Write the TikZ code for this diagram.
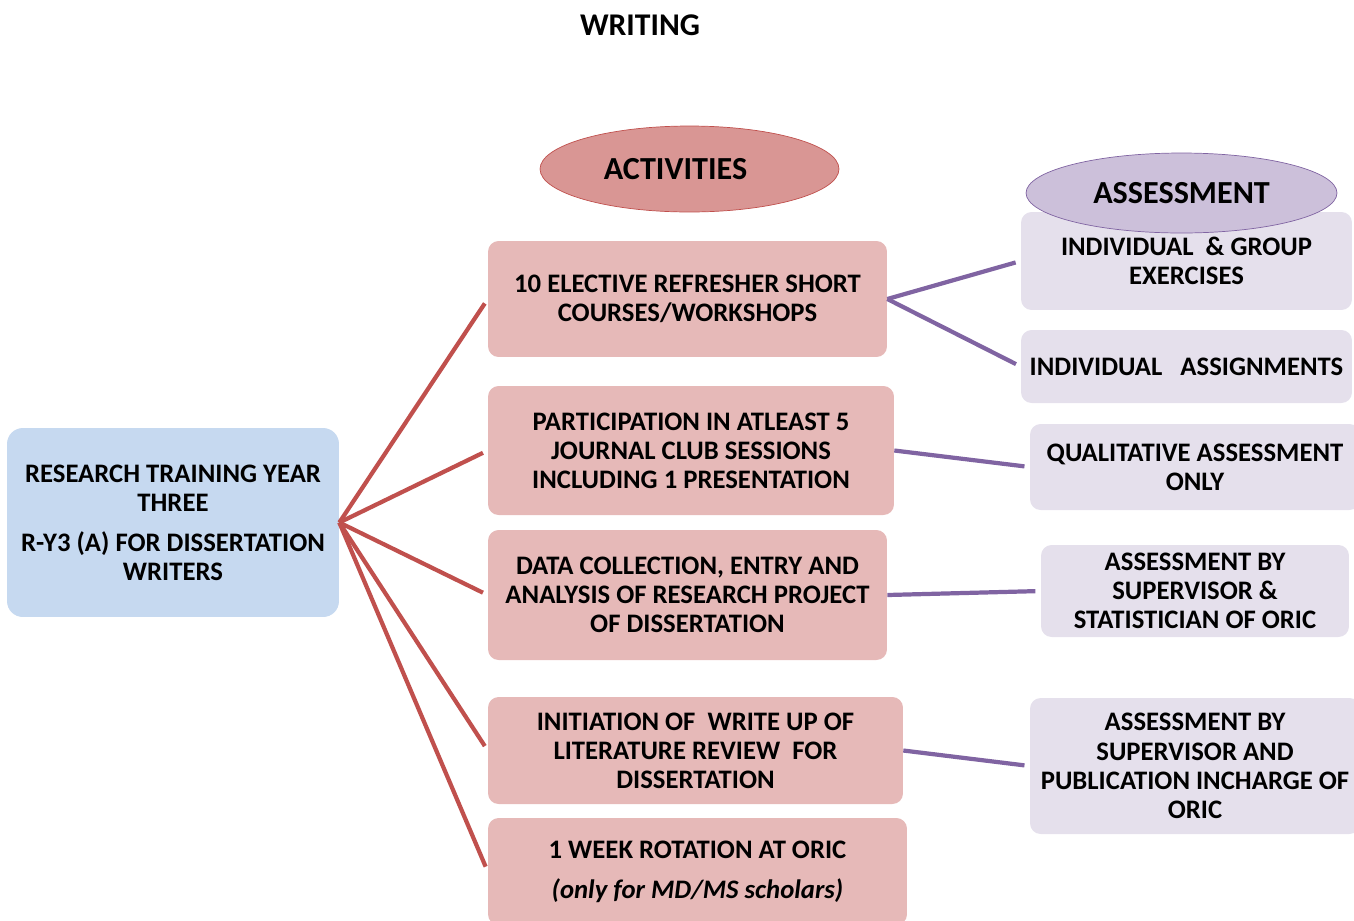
\documentclass[tikz,border=0pt]{standalone}
\usepackage{fontspec}
\setmainfont{Carlito}
\usetikzlibrary{shapes.geometric}

\definecolor{hubblue}{HTML}{C6D9F0}
\definecolor{actfill}{HTML}{E6B9B8}
\definecolor{actline}{HTML}{C0504D}
\definecolor{actoval}{HTML}{D99694}
\definecolor{asfill}{HTML}{E5E0EC}
\definecolor{asoval}{HTML}{CCC0DA}
\definecolor{asline}{HTML}{8064A2}

\newcommand{\bodyfont}{\bfseries\fontsize{15.2}{16.6}\selectfont}

\begin{document}
\begin{tikzpicture}[x=0.02cm, y=-0.02cm,
    hubbox/.style={fill=hubblue, rounded corners=9pt, align=center, font=\bodyfont, inner sep=0pt},
    actbox/.style={fill=actfill, rounded corners=6pt, align=center, font=\bodyfont, inner sep=0pt},
    asbox/.style={fill=asfill, rounded corners=6pt, align=center, font=\bodyfont, inner sep=0pt},
    oval/.style={ellipse, draw, thin, inner sep=0pt, font=\bfseries\fontsize{18.3}{20}\selectfont},
    redline/.style={draw=actline, line width=2.4pt, shorten >=3pt},
    purpleline/.style={draw=asline, line width=2.4pt, shorten >=3pt}
]
\useasboundingbox (0,0) rectangle (1354,920);
\clip (0,0) rectangle (1354,920);

% Title
\node[font=\bfseries\fontsize{18}{20}\selectfont] (title) at (640,25) {WRITING};

% Central box
\node[hubbox, minimum width=6.64cm, minimum height=3.78cm] (hub) at (173,522.5)
  {RESEARCH TRAINING YEAR\\ THREE\\[6pt] R-Y3 (A) FOR DISSERTATION\\ WRITERS};

% Activities
\node[oval, fill=actoval, draw=actline, minimum width=5.98cm, minimum height=1.72cm,
  label={[font=\bfseries\fontsize{18.3}{20}\selectfont, xshift=-0.28cm]center:ACTIVITIES}] (acthead) at (689.5,169) {};

\node[actbox, minimum width=7.98cm, minimum height=2.32cm] (act1) at (687.5,299)
  {10 ELECTIVE REFRESHER SHORT\\ COURSES/WORKSHOPS};
\node[actbox, minimum width=8.12cm, minimum height=2.58cm] (act2) at (691,450.5)
  {PARTICIPATION IN ATLEAST 5\\ JOURNAL CLUB SESSIONS\\ INCLUDING 1 PRESENTATION};
\node[actbox, minimum width=7.98cm, minimum height=2.6cm] (act3) at (687.5,595)
  {DATA COLLECTION, ENTRY AND\\ ANALYSIS OF RESEARCH PROJECT\\ OF DISSERTATION};
\node[actbox, minimum width=8.3cm, minimum height=2.14cm] (act4) at (695.5,750.5)
  {INITIATION OF\ \ WRITE UP OF\\ LITERATURE REVIEW\ \ FOR\\ DISSERTATION};
\node[actbox, minimum width=8.38cm, minimum height=2.14cm] (act5) at (697.5,871.5)
  {1 WEEK ROTATION AT ORIC\\[6pt] \textit{(only for MD/MS scholars)}};

% Assessment
\node[asbox, minimum width=6.62cm, minimum height=1.96cm] (as1) at (1186.5,261)
  {INDIVIDUAL\ \ \& GROUP\\ EXERCISES};
\node[asbox, minimum width=6.62cm, minimum height=1.46cm] (as2) at (1186.5,366.5)
  {INDIVIDUAL\ \ \ ASSIGNMENTS};
\node[asbox, minimum width=6.6cm, minimum height=1.72cm] (as3) at (1195,467)
  {QUALITATIVE ASSESSMENT\\ ONLY};
\node[asbox, minimum width=6.16cm, minimum height=1.84cm] (as4) at (1195,591)
  {ASSESSMENT BY\\ SUPERVISOR \&\\ STATISTICIAN OF ORIC};
\node[asbox, minimum width=6.6cm, minimum height=2.72cm] (as5) at (1195,766)
  {ASSESSMENT BY\\ SUPERVISOR AND\\ PUBLICATION INCHARGE OF\\ ORIC};

\node[oval, fill=asoval, draw=asline, minimum width=6.22cm, minimum height=1.6cm] (ashead) at (1181.5,193) {ASSESSMENT};

% Hub to activities
\foreach \a in {act1,act2,act3,act4,act5}
  \draw[redline] (hub.east) -- (\a.west);

% Activities to assessment
\draw[purpleline] (act1.east) -- (as1.west);
\draw[purpleline] (act1.east) -- (as2.west);
\draw[purpleline] (act2.east) -- (as3.west);
\draw[purpleline] (act3.east) -- (as4.west);
\draw[purpleline] (act4.east) -- (as5.west);

\end{tikzpicture}
\end{document}
